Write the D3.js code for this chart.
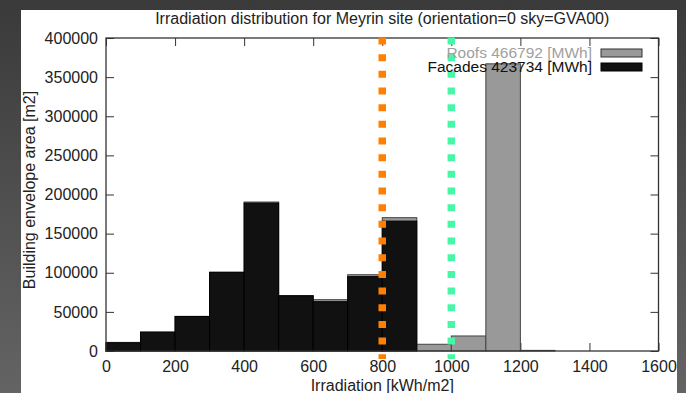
<!DOCTYPE html>
<html><head><meta charset="utf-8">
<script src="https://cdn.jsdelivr.net/npm/d3@7"></script>
<style>
html,body{margin:0;padding:0;width:686px;height:393px;overflow:hidden;}
body{background:linear-gradient(#3a3a3a,#3e3e3e 10%,#646464);}
svg{display:block;}
text{font-family:"Liberation Sans",Arial,Helvetica,sans-serif;}
</style></head>
<body>
<svg id="chart" width="686" height="393"></svg>
<script>
// ---- data ----
const binStarts = [0,100,200,300,400,500,600,700,800,900,1000,1100,1200,1300,1400,1500];
const binWidth = 100;
const facades = [10500,24000,44000,100500,189000,70500,63000,95000,166000,0,0,0,0,0,0,0];
const roofs   = [500,300,300,200,1400,300,2600,2500,4400,8600,19200,367000,800,0,0,0];
const xTicks = [0,200,400,600,800,1000,1200,1400,1600];
const yTicks = [0,50000,100000,150000,200000,250000,300000,350000,400000];
const thresholds = [800,1000];
const legendLabels = ["Roofs 466792 [MWh]","Facades 423734 [MWh]"];
const title = "Irradiation distribution for Meyrin site (orientation=0 sky=GVA00)";
const xTitle = "Irradiation [kWh/m2]";
const yTitle = "Building envelope area [m2]";

// ---- layout ----
const svg = d3.select("#chart");
const L=106, R=658.5, T=38, B=351;
const x = d3.scaleLinear().domain([0,1600]).range([L,R]);
const y = d3.scaleLinear().domain([0,400000]).range([B,T]);

svg.append("rect").attr("x",21).attr("y",10).attr("width",656).attr("height",383).attr("fill","#fff");

// ticks (behind bars)
const tickCol="#333";
function styleAxis(g){
  g.select(".domain").remove();
  g.selectAll(".tick line").attr("stroke",tickCol).attr("stroke-width",1);
  g.selectAll(".tick text").attr("fill","#222").style("font-size","16px")
   .style("font-family",'"Liberation Sans",Arial,Helvetica,sans-serif');
}
svg.append("g").attr("transform",`translate(0,${B})`)
  .call(d3.axisBottom(x).tickValues(xTicks).tickSize(-8).tickPadding(10).tickFormat(d3.format("d"))).call(styleAxis);
svg.append("g").attr("transform",`translate(0,${T})`)
  .call(d3.axisTop(x).tickValues(xTicks).tickSize(-8).tickFormat("")).call(styleAxis);
svg.append("g").attr("transform",`translate(${L},0)`)
  .call(d3.axisLeft(y).tickValues(yTicks).tickSize(-8).tickPadding(8).tickFormat(d3.format("d"))).call(styleAxis);
svg.append("g").attr("transform",`translate(${R},0)`)
  .call(d3.axisRight(y).tickValues(yTicks).tickSize(-8).tickFormat("")).call(styleAxis);

// bars: roofs stacked on facades (gray = total), facades in front
const bins = binStarts.map((s,i)=>({s, f:facades[i], r:roofs[i]}));
svg.append("g").selectAll("rect").data(bins.filter(d=>d.f+d.r>0)).join("rect")
  .attr("x",d=>x(d.s)).attr("width",d=>x(d.s+binWidth)-x(d.s))
  .attr("y",d=>y(d.f+d.r)).attr("height",d=>y(0)-y(d.f+d.r))
  .attr("fill","#999").attr("stroke","#444").attr("stroke-width",1);
svg.append("g").selectAll("rect").data(bins.filter(d=>d.f>0)).join("rect")
  .attr("x",d=>x(d.s)).attr("width",d=>x(d.s+binWidth)-x(d.s))
  .attr("y",d=>y(d.f)).attr("height",d=>y(0)-y(d.f))
  .attr("fill","#111").attr("stroke","#000").attr("stroke-width",1);

// frame
svg.append("rect").attr("x",L).attr("y",T).attr("width",R-L).attr("height",B-T)
  .attr("fill","none").attr("stroke","#333").attr("stroke-width",1.3);

// threshold dotted lines
const thrCols=["#ff8000","#48f7a6"];
svg.append("g").selectAll("line").data(thresholds).join("line")
  .attr("x1",d=>x(d)).attr("x2",d=>x(d)).attr("y1",T-0.5).attr("y2",B+8)
  .attr("stroke",(d,i)=>thrCols[i]).attr("stroke-width",7.5).attr("stroke-dasharray","7,9.67");

// legend
const lg = svg.append("g");
const legCols=[["#a0a0a0","#999","#333"],["#111","#111","#000"]];
legendLabels.forEach((t,i)=>{
  const cy = 53 + i*14;
  lg.append("text").attr("x",592).attr("y",cy).attr("dy","0.35em").attr("text-anchor","end")
    .attr("fill",legCols[i][0]).style("font-size","15.5px").text(t);
  lg.append("rect").attr("x",601).attr("y",cy-4).attr("width",41).attr("height",8)
    .attr("fill",legCols[i][1]).attr("stroke",legCols[i][2]).attr("stroke-width",1);
});

// titles
svg.append("text").attr("x",(L+R)/2).attr("y",24).attr("text-anchor","middle")
  .attr("fill","#222").style("font-size","16px").text(title);
svg.append("text").attr("x",(L+R)/2).attr("y",391).attr("text-anchor","middle")
  .attr("fill","#222").style("font-size","16px").text(xTitle);
svg.append("text").attr("transform","translate(35,190) rotate(-90)").attr("text-anchor","middle")
  .attr("fill","#222").style("font-size","16px").text(yTitle);
</script>
</body></html>
